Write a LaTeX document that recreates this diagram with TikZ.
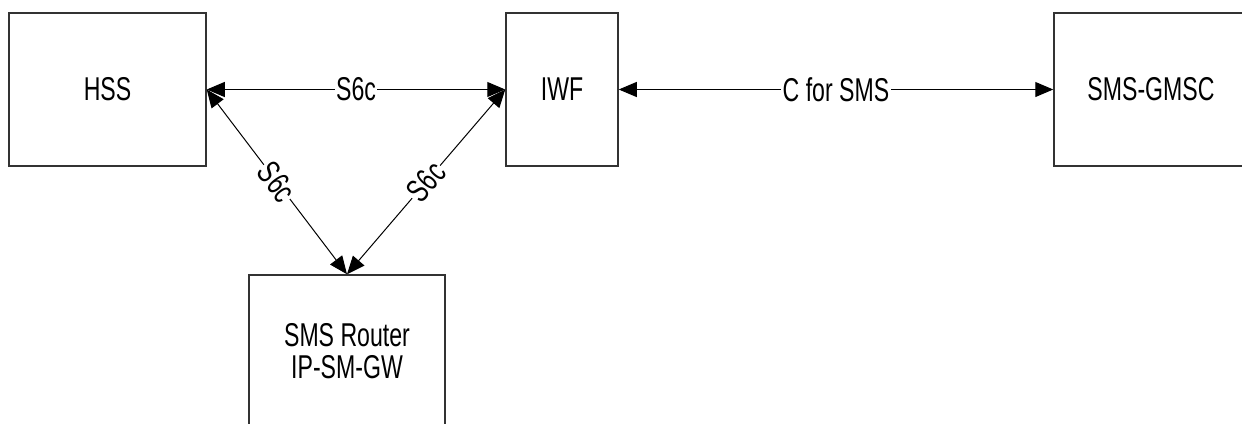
\documentclass[tikz,border=0pt]{standalone}
\usepackage{fontspec}
\newfontfamily\diafont[FakeStretch=0.7]{Liberation Sans}
\usetikzlibrary{arrows.meta}
\tikzset{
  box/.style={draw=black!80, line width=1.5pt, minimum height=153pt, inner sep=0pt, font=\diafont\fontsize{33}{32}\selectfont, align=center},
  link/.style={line width=1pt, {Triangle[length=18pt,width=15pt]}-{Triangle[length=18pt,width=15pt]}},
  lbl/.style={fill=white, inner sep=1.5pt, font=\diafont\fontsize{33}{36}\selectfont},
}
\begin{document}
\begin{tikzpicture}[x=1pt,y=-1pt]
\useasboundingbox (0,0) rectangle (1242,423);
\clip (0,0) rectangle (1242,423);
\node[box, minimum width=197pt] (hss) at (107.5,89.5) {HSS};
\node[box, minimum width=112pt] (iwf) at (562,89.5) {IWF};
\node[box, minimum width=194pt] (gmsc) at (1151,89.5) {SMS-GMSC};
\node[box, minimum width=196pt] (router) at (347,351.5) {SMS Router\\IP-SM-GW};
\draw[link] (hss.east) -- node[lbl] {S6c} (iwf.west);
\draw[link] (iwf.east) -- node[lbl] {C for SMS} (gmsc.west);
\draw[link] (hss.east) -- node[lbl, sloped] {S6c} (router.north);
\draw[link] (iwf.west) -- node[lbl, sloped] {S6c} (router.north);
\end{tikzpicture}
\end{document}
